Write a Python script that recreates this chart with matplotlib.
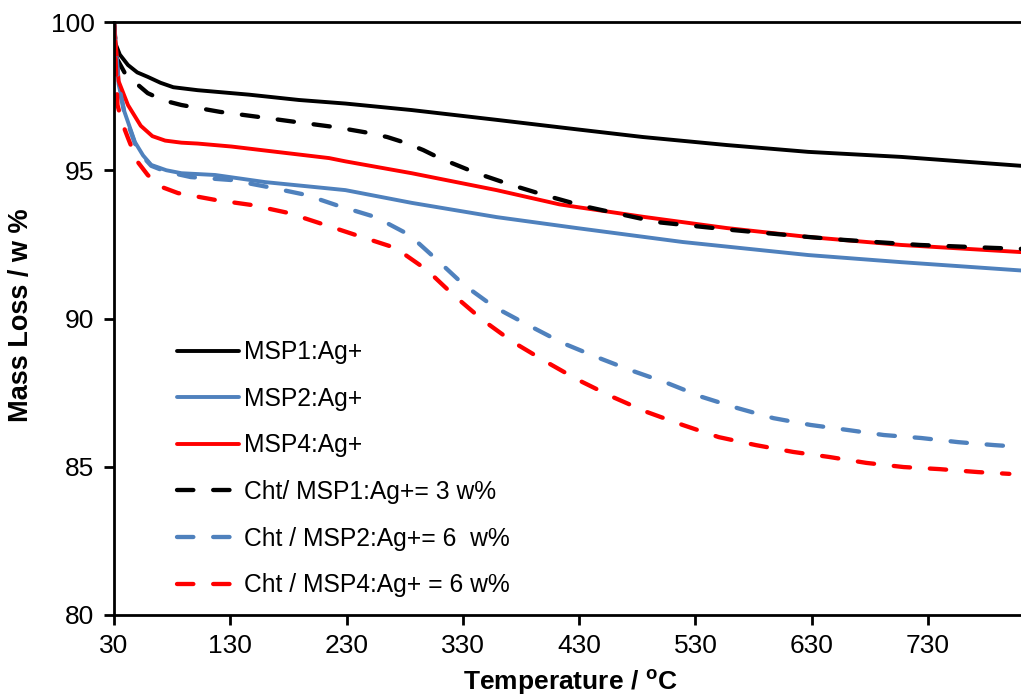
import matplotlib
matplotlib.use("Agg")
import matplotlib.pyplot as plt

plt.rcParams["font.family"] = ["Liberation Sans", "DejaVu Sans"]
plt.rcParams["mathtext.fontset"] = "custom"
plt.rcParams["mathtext.bf"] = "Liberation Sans:bold"
plt.rcParams["mathtext.rm"] = "Liberation Sans"

# TGA curves (temperature in oC, mass in w %)
t_msp1 = [30, 31, 35, 42, 50, 59, 70, 81, 102, 146, 189, 229, 286, 359, 428, 485, 557, 627, 707, 765, 810]
m_msp1 = [100, 99.3, 98.9, 98.55, 98.3, 98.15, 97.95, 97.8, 97.7, 97.55, 97.37, 97.25, 97.03, 96.7, 96.38,
          96.12, 95.85, 95.62, 95.45, 95.28, 95.15]

t_msp2 = [30, 34, 39, 48, 55, 62, 75, 88, 117, 160, 229, 286, 359, 428, 519, 627, 707, 810]
m_msp2 = [100, 97.9, 96.97, 95.95, 95.5, 95.18, 95.0, 94.9, 94.84, 94.6, 94.33, 93.9, 93.42, 93.05, 92.58,
          92.14, 91.9, 91.62]

t_msp4 = [30, 34, 42, 53, 63, 74, 88, 102, 131, 174, 215, 229, 286, 359, 413, 428, 485, 557, 627, 707, 810]
m_msp4 = [100, 98.0, 97.2, 96.5, 96.15, 96.0, 95.93, 95.9, 95.8, 95.6, 95.41, 95.3, 94.9, 94.33, 93.85,
          93.76, 93.43, 93.05, 92.75, 92.48, 92.24]

t_cht1 = [30, 32, 39, 50, 59, 73, 88, 121, 154, 186, 221, 249, 265, 281, 296, 310, 342, 372, 403, 435,
          497, 563, 627, 658, 723, 787, 810]
m_cht1 = [100, 98.8, 98.3, 97.9, 97.6, 97.35, 97.2, 96.97, 96.8, 96.63, 96.45, 96.26, 96.12, 95.92, 95.68,
          95.41, 94.9, 94.5, 94.13, 93.78, 93.25, 92.98, 92.75, 92.65, 92.48, 92.38, 92.35]

t_cht2 = [30, 34, 39, 48, 55, 62, 75, 96, 131, 163, 195, 223, 255, 284, 308, 331, 357, 386, 416, 445,
          474, 506, 536, 566, 597, 629, 661, 692, 724, 756, 787, 810]
m_cht2 = [100, 97.9, 96.9, 95.9, 95.45, 95.15, 94.95, 94.77, 94.67, 94.43, 94.17, 93.8, 93.42, 92.82,
          91.97, 91.13, 90.39, 89.78, 89.17, 88.7, 88.26, 87.82, 87.35, 86.98, 86.64, 86.41, 86.24, 86.07,
          85.97, 85.83, 85.73, 85.67]

t_cht4 = [30, 33, 37, 42, 50, 59, 70, 85, 117, 148, 180, 212, 243, 272, 299, 322, 347, 373, 402, 429,
          459, 488, 519, 550, 582, 614, 645, 677, 709, 740, 773, 800]
m_cht4 = [100, 97.2, 96.6, 96.09, 95.3, 94.84, 94.45, 94.23, 94.0, 93.83, 93.56, 93.15, 92.75, 92.38,
          91.64, 90.79, 89.95, 89.21, 88.53, 87.93, 87.35, 86.85, 86.41, 86.0, 85.73, 85.5, 85.33, 85.13,
          84.99, 84.92, 84.82, 84.76]

labels = ["MSP1:Ag+", "MSP2:Ag+", "MSP4:Ag+", "Cht/ MSP1:Ag+= 3 w%",
          "Cht / MSP2:Ag+= 6  w%", "Cht / MSP4:Ag+ = 6 w%"]
x_ticks = [30, 130, 230, 330, 430, 530, 630, 730]
y_ticks = [80, 85, 90, 95, 100]

BLACK, BLUE, RED = "#000000", "#4F81BD", "#FF0000"

fig = plt.figure(figsize=(10.21, 6.98), dpi=100)
ax = fig.add_axes([114 / 1021, 1 - 615 / 698, 907 / 1021, 593 / 698])

solid = dict(lw=2.8, solid_capstyle="round")
dashed = dict(lw=3.1, dashes=(3.8, 4.6), dash_capstyle="round")
ax.plot(t_msp1, m_msp1, color=BLACK, label=labels[0], **solid)
ax.plot(t_msp2, m_msp2, color=BLUE, label=labels[1], **solid)
ax.plot(t_msp4, m_msp4, color=RED, label=labels[2], **solid)
ax.plot(t_cht1, m_cht1, color=BLACK, label=labels[3], **dashed)
ax.plot(t_cht2, m_cht2, color=BLUE, label=labels[4], **dashed)
ax.plot(t_cht4, m_cht4, color=RED, label=labels[5], **dashed)

ax.set_xlim(30, 810)
ax.set_ylim(80, 100)
ax.set_xticks(x_ticks)
ax.set_yticks(y_ticks)
ax.tick_params(direction="out", length=7, width=2, labelsize=19, pad=7)
for side in ["left", "bottom", "top"]:
    ax.spines[side].set_linewidth(2)
ax.spines["right"].set_visible(False)

ax.set_xlabel(r"Temperature / $^{\mathbf{o}}$C", fontsize=19, fontweight="bold")
ax.set_ylabel("Mass Loss / w %", fontsize=19.5, fontweight="bold")
ax.xaxis.set_label_coords(0.503, -0.089)
ax.yaxis.set_label_coords(-0.088, 0.506)

ax.legend(loc="upper left", bbox_to_anchor=(160 / 1021, 1 - 323 / 698), bbox_transform=fig.transFigure,
          frameon=False, fontsize=17.7, handlelength=2.5, handletextpad=0.2, labelspacing=0.92,
          borderpad=0.2)

fig.savefig("out.png", dpi=100)
plt.close(fig)
